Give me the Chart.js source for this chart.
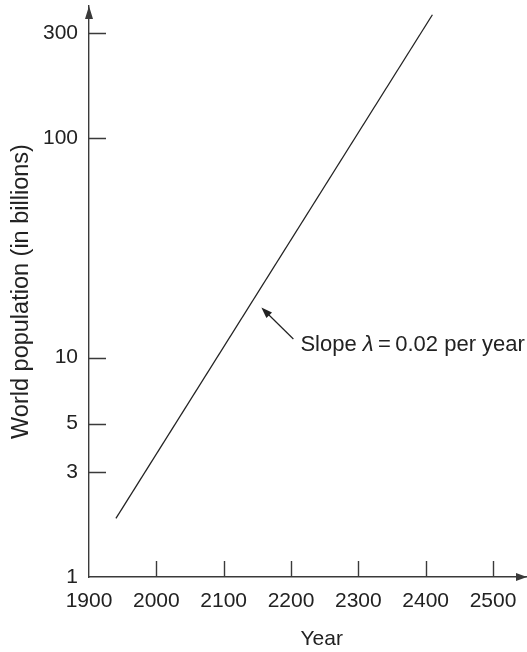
<!DOCTYPE html>
<html>
<head>
<meta charset="utf-8">
<script src="https://cdn.jsdelivr.net/npm/chart.js@4.4.1/dist/chart.umd.min.js"></script>
<style>
  html, body { margin: 0; padding: 0; background: #fff; }
  #wrap { width: 527px; height: 652px; position: relative; }
</style>
</head>
<body>
<div id="wrap"><canvas id="popChart"></canvas></div>
<script>
// ── Data ────────────────────────────────────────────────────────
const years      = [1940, 2410];
const population = [1.85, 365];          // billions
const xTicks     = [1900, 2000, 2100, 2200, 2300, 2400, 2500];
const yTicks     = [1, 3, 5, 10, 100, 300];

const FONT = "'Liberation Sans', Arial, sans-serif";
const INK  = "#222";
const AXIS = "#3a3a3a";

// ── Extra marks: inward ticks, arrowheads, note, x title ───────
const figureMarks = {
  id: "figureMarks",
  afterDraw(chart) {
    const { ctx, chartArea: a, scales: { x, y } } = chart;
    ctx.save();
    ctx.strokeStyle = AXIS;
    ctx.fillStyle = AXIS;
    ctx.lineWidth = 1.4;

    // tick marks pointing into the plot
    ctx.beginPath();
    yTicks.slice(1).forEach(v => {
      const py = Math.round(y.getPixelForValue(v)) + 0.5;
      ctx.moveTo(a.left, py);
      ctx.lineTo(a.left + 17, py);
    });
    xTicks.slice(1).forEach(v => {
      const px = Math.round(x.getPixelForValue(v)) + 0.5;
      ctx.moveTo(px, a.bottom);
      ctx.lineTo(px, a.bottom - 16);
    });
    ctx.stroke();

    // axis arrowheads
    ctx.beginPath();
    ctx.moveTo(a.left, a.top);
    ctx.lineTo(a.left - 4, a.top + 13);
    ctx.lineTo(a.left + 4, a.top + 13);
    ctx.closePath();
    ctx.moveTo(a.right + 1, a.bottom);
    ctx.lineTo(a.right - 10, a.bottom - 4);
    ctx.lineTo(a.right - 10, a.bottom + 4);
    ctx.closePath();
    ctx.fill();

    // slope note with arrow
    const tipX = x.getPixelForValue(2156);
    const tipY = y.getPixelForValue(16.9);
    const tailX = tipX + 32, tailY = tipY + 31.5;
    const ang = Math.atan2(tipY - tailY, tipX - tailX);
    ctx.strokeStyle = INK;
    ctx.fillStyle = INK;
    ctx.lineWidth = 1.2;
    ctx.beginPath();
    ctx.moveTo(tailX, tailY);
    ctx.lineTo(tipX - 6 * Math.cos(ang), tipY - 6 * Math.sin(ang));
    ctx.stroke();
    ctx.beginPath();
    ctx.moveTo(tipX, tipY);
    ctx.lineTo(tipX - 11 * Math.cos(ang) + 4 * Math.sin(ang), tipY - 11 * Math.sin(ang) - 4 * Math.cos(ang));
    ctx.lineTo(tipX - 11 * Math.cos(ang) - 4 * Math.sin(ang), tipY - 11 * Math.sin(ang) + 4 * Math.cos(ang));
    ctx.closePath();
    ctx.fill();

    ctx.textBaseline = "alphabetic";
    ctx.textAlign = "left";
    let tx = tailX + 7;
    const ty = tailY + 11.5;
    const parts = [
      ["Slope ", "22px " + FONT],
      ["\u03bb", "italic 22px " + FONT],
      ["\u2009=\u20090.02 per year", "22px " + FONT],
    ];
    parts.forEach(([txt, f]) => {
      ctx.font = f;
      ctx.fillText(txt, tx, ty);
      tx += ctx.measureText(txt).width;
    });

    // x axis title
    ctx.font = "21px " + FONT;
    ctx.textAlign = "center";
    ctx.fillText("Year", x.getPixelForValue(2250) - 3, 645);
    ctx.restore();
  },
};

// ── Chart ───────────────────────────────────────────────────────
const points = years.map((yr, i) => ({ x: yr, y: population[i] }));

new Chart(document.getElementById("popChart"), {
  type: "scatter",
  data: {
    datasets: [{
      data: points,
      showLine: true,
      borderColor: INK,
      borderWidth: 1.3,
      pointRadius: 0,
      fill: false,
    }],
  },
  options: {
    responsive: true,
    maintainAspectRatio: false,
    animation: false,
    layout: { padding: { top: 6, right: 1, left: 0, bottom: 0 } },
    plugins: { legend: { display: false }, tooltip: { enabled: false } },
    scales: {
      x: {
        type: "linear",
        min: 1900,
        max: 2549,
        afterBuildTicks: s => { s.ticks = xTicks.map(v => ({ value: v })); },
        afterFit: s => { s.height = 75; s.paddingLeft = 0; s.paddingRight = 0; },
        grid: { display: false, drawTicks: false },
        border: { display: true, color: AXIS, width: 1.4 },
        ticks: {
          color: INK,
          padding: 12,
          maxRotation: 0,
          autoSkip: false,
          font: { family: FONT, size: 21 },
          callback: v => String(v),
        },
      },
      y: {
        type: "logarithmic",
        min: 1,
        max: 400,
        afterBuildTicks: s => { s.ticks = yTicks.map(v => ({ value: v })); },
        afterFit: s => { s.width = 89; s.paddingTop = 0; s.paddingBottom = 0; },
        grid: { display: false, drawTicks: false },
        border: { display: true, color: AXIS, width: 1.4 },
        ticks: {
          color: INK,
          padding: 11,
          autoSkip: false,
          font: { family: FONT, size: 21 },
          callback: v => String(v),
        },
        title: {
          display: true,
          text: "World population (in billions)",
          color: INK,
          font: { family: FONT, size: 23.5 },
          padding: { top: 7, bottom: 0 },
        },
      },
    },
  },
  plugins: [figureMarks],
});
</script>
</body>
</html>
